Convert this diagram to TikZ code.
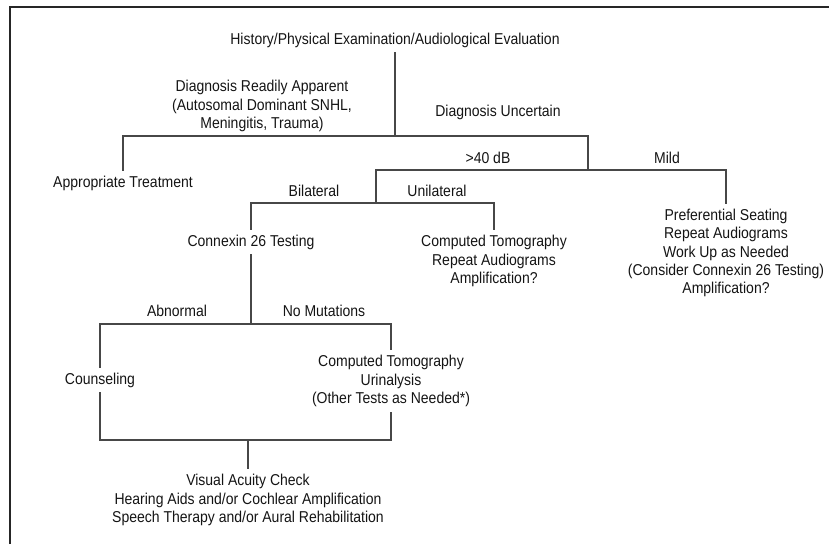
\documentclass[tikz,border=0pt]{standalone}
\usepackage{fontspec}
\setmainfont{Liberation Sans}[FakeStretch=0.89]

\begin{document}
\begin{tikzpicture}[x=0.75pt, y=-0.75pt,
    txt/.style={align=center, inner xsep=0pt, inner ysep=3.5pt, text=black!92,
        font=\fontsize{11.8}{13.7}\selectfont},
    wire/.style={draw=black!72, line width=0.8pt}]
    \useasboundingbox (0,0) rectangle (829,544);
    \draw[black!85, line width=1.2pt] (10,544) -- (10,7) -- (829,7);

    \node[txt] (hist) at (395,40) {History/Physical Examination/Audiological Evaluation};
    \node[txt] (ready) at (262,106) {Diagnosis Readily Apparent\\(Autosomal Dominant SNHL,\\Meningitis, Trauma)};
    \node[txt] (uncertain) at (498,112) {Diagnosis Uncertain};
    \node[txt] (approp) at (123,183) {Appropriate Treatment};
    \node[txt] (severe) at (488,158) {>40 dB};
    \node[txt] (mild) at (667,158) {Mild};
    \node[txt] (bilat) at (314,191) {Bilateral};
    \node[txt] (unilat) at (437,191) {Unilateral};
    \node[txt] (conn) at (251,242) {Connexin 26 Testing};
    \node[txt] (unires) at (494,261) {Computed Tomography\\Repeat Audiograms\\Amplification?};
    \node[txt] (mildres) at (726,253) {Preferential Seating\\Repeat Audiograms\\Work Up as Needed\\(Consider Connexin 26 Testing)\\Amplification?};
    \node[txt] (abnormal) at (177,311) {Abnormal};
    \node[txt] (nomut) at (324,311) {No Mutations};
    \node[txt] (couns) at (100,380) {Counseling};
    \node[txt] (ctres) at (391,381) {Computed Tomography\\Urinalysis\\(Other Tests as Needed*)};
    \node[txt] (final) at (248,500) {Visual Acuity Check\\Hearing Aids and/or Cochlear Amplification\\Speech Therapy and/or Aural Rehabilitation};

    \coordinate (split1) at (395,136);
    \coordinate (split2) at (588,170);
    \coordinate (split3) at (376,203);
    \coordinate (split4) at (251,324);
    \coordinate (join1) at (248,440);

    \draw[wire] (hist.south) -- (split1);
    \draw[wire] (approp.north) |- (split1) -| (split2);
    \draw[wire] (split3) |- (split2) -| (mildres.north);
    \draw[wire] (conn.north) |- (split3) -| (unires.north);
    \draw[wire] (conn.south) -- (split4);
    \draw[wire] (couns.north) |- (split4) -| (ctres.north);
    \draw[wire] (couns.south) |- (join1) -| (ctres.south);
    \draw[wire] (join1) -- (final.north);
\end{tikzpicture}
\end{document}
